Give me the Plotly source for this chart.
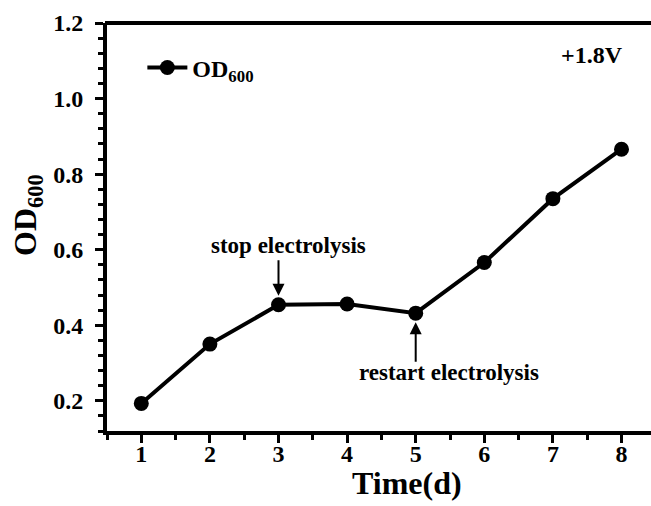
import plotly.graph_objects as go

days = [1, 2, 3, 4, 5, 6, 7, 8]
od600 = [0.193, 0.350, 0.454, 0.456, 0.432, 0.566, 0.735, 0.866]
x_ticks = [1, 2, 3, 4, 5, 6, 7, 8]
y_ticks = [0.2, 0.4, 0.6, 0.8, 1.0, 1.2]
y_tick_text = ["0.2", "0.4", "0.6", "0.8", "1.0", "1.2"]
X_RANGE = [0.5, 8.43]
Y_RANGE = [0.12, 1.2]

FONT = "Liberation Serif, Times New Roman, serif"

def b(s):
    return "<b>" + s + "</b>"

fig = go.Figure()
fig.add_trace(go.Scatter(
    x=days, y=od600, mode="lines+markers", name=b("OD<sub>600</sub>"),
    line=dict(color="black", width=4),
    marker=dict(color="black", size=15),
))

fig.update_layout(
    width=651, height=506,
    margin=dict(l=107, r=0, t=23, b=75),
    plot_bgcolor="white", paper_bgcolor="white",
    font=dict(family=FONT, color="black"),
    showlegend=True,
    legend=dict(x=0.065, y=0.945, xanchor="left", yanchor="top",
                font=dict(family=FONT, size=24, color="black"),
                bgcolor="rgba(0,0,0,0)", itemwidth=40),
    xaxis=dict(
        range=X_RANGE, tickvals=x_ticks, ticktext=[b(str(v)) for v in x_ticks],
        ticks="outside", ticklen=8, tickwidth=3, tickcolor="black",
        showline=True, linewidth=4, linecolor="black",
        showgrid=False, zeroline=False, ticklabelstandoff=-10,
        minor=dict(dtick=0.5, tick0=0.5, ticks="outside", ticklen=5, tickwidth=3, tickcolor="black"),
        tickfont=dict(family=FONT, size=24, color="black"),
    ),
    yaxis=dict(
        range=Y_RANGE, tickvals=y_ticks, ticktext=[b(t) for t in y_tick_text],
        ticks="outside", ticklen=8, tickwidth=3, tickcolor="black",
        showline=True, linewidth=4, linecolor="black",
        showgrid=False, zeroline=False, ticklabelstandoff=7,
        minor=dict(dtick=0.04, tick0=0.0, ticks="outside", ticklen=5, tickwidth=3, tickcolor="black"),
        tickfont=dict(family=FONT, size=24, color="black"),
    ),
)

# top frame edge (the reference has a top border but no right border)
H = 408.0
W = 544.0
fig.add_shape(type="rect", xref="paper", yref="paper", x0=-2/W, x1=1, y0=1 - 2/H, y1=1 + 2/H,
              fillcolor="black", line=dict(width=0), layer="above")

# axis titles
fig.add_annotation(x=0.551, y=-0.128, xref="paper", yref="paper", text=b("Time(d)"),
                   showarrow=False, xanchor="center", yanchor="middle",
                   font=dict(family=FONT, size=32, color="black"))
fig.add_annotation(x=-0.145, y=0.53, xref="paper", yref="paper", text=b("OD<sub>600</sub>"),
                   showarrow=False, xanchor="center", yanchor="middle", textangle=-90,
                   font=dict(family=FONT, size=32, color="black"))

fig.add_annotation(x=0.891, y=0.921, xref="paper", yref="paper", text=b("+1.8V"),
                   showarrow=False, xanchor="center", yanchor="middle",
                   font=dict(family=FONT, size=24, color="black"))
fig.add_annotation(x=3.14, y=0.61, text=b("stop electrolysis"), showarrow=False,
                   font=dict(family=FONT, size=23, color="black"))
fig.add_annotation(x=5.48, y=0.275, text=b("restart electrolysis"), showarrow=False,
                   font=dict(family=FONT, size=23, color="black"))
fig.add_annotation(x=3, y=od600[2], ax=0, ay=-46, text="", showarrow=True,
                   arrowhead=2, arrowsize=1.2, arrowwidth=2, arrowcolor="black", standoff=9)
fig.add_annotation(x=5, y=od600[4], ax=0, ay=50, text="", showarrow=True,
                   arrowhead=2, arrowsize=1.2, arrowwidth=2, arrowcolor="black", standoff=9)

fig.write_html("out.html")
